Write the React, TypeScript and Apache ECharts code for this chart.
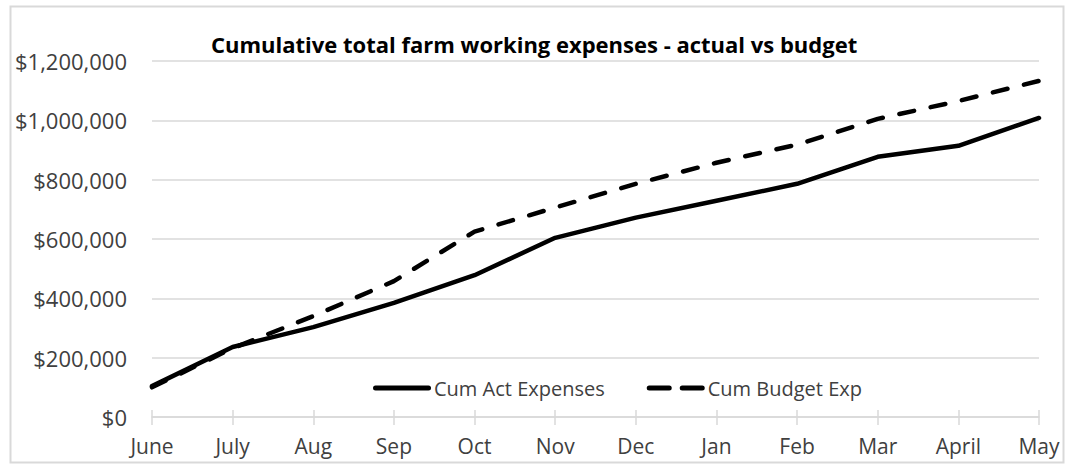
import React, { useEffect, useRef } from "react";
import * as echarts from "echarts";

const months = ["June", "July", "Aug", "Sep", "Oct", "Nov", "Dec", "Jan", "Feb", "Mar", "April", "May"];
const actualExpenses = [104000, 236000, 303000, 385000, 478000, 604000, 672000, 729000, 786000, 877000, 914000, 1008000];
const budgetExpenses = [100000, 232000, 340000, 458000, 625000, 706000, 786000, 857000, 918000, 1005000, 1065000, 1133000];
const seriesNames = ["Cum Act Expenses", "Cum Budget Exp"];
const titleText = "Cumulative total farm working expenses - actual vs budget";

const FONT = "'Open Sans', 'Noto Sans', sans-serif";
const TEXT_COLOR = "#404040";
const GRID_COLOR = "#d9d9d9";

export default function App() {
  const ref = useRef<HTMLDivElement>(null);
  useEffect(() => {
    if (!ref.current) return;
    const chart = echarts.init(ref.current, null, { renderer: "svg" });
    chart.setOption({
      animation: false,
      backgroundColor: "#ffffff",
      textStyle: { fontFamily: FONT },
      title: {
        text: titleText,
        left: 206,
        top: 28,
        textStyle: { fontFamily: FONT, fontSize: 22, fontWeight: "bold", color: "#000000" },
      },
      graphic: [
        {
          type: "rect",
          shape: { x: 10.5, y: 6.5, width: 1053, height: 456 },
          style: { fill: "none", stroke: GRID_COLOR, lineWidth: 2 },
          silent: true,
          z: -1,
        },
      ],
      legend: {
        left: 368,
        top: 373,
        itemWidth: 58,
        itemHeight: 5,
        itemGap: 42,
        textStyle: { fontFamily: FONT, fontSize: 20, color: TEXT_COLOR, padding: [0, 0, 0, -2] },
        data: [
          {
            name: seriesNames[0],
            icon: "path://M2.5,0 L55.5,0 A2.5,2.5 0 0 1 55.5,5 L2.5,5 A2.5,2.5 0 0 1 2.5,0 Z",
          },
          {
            name: seriesNames[1],
            icon:
              "path://M2.5,0 L22.5,0 A2.5,2.5 0 0 1 22.5,5 L2.5,5 A2.5,2.5 0 0 1 2.5,0 Z M35.5,0 L55.5,0 A2.5,2.5 0 0 1 55.5,5 L35.5,5 A2.5,2.5 0 0 1 35.5,0 Z",
          },
        ],
      },
      grid: { left: 152, right: 26, top: 61, bottom: 48, containLabel: false },
      xAxis: [
        {
          type: "category",
          data: months,
          boundaryGap: false,
          axisLine: { lineStyle: { color: GRID_COLOR, width: 1.5 } },
          axisTick: { show: true, length: 8, inside: false, lineStyle: { color: GRID_COLOR, width: 1.5 } },
          axisLabel: { fontFamily: FONT, fontSize: 21, color: TEXT_COLOR, margin: 18 },
          splitLine: { show: false },
        },
        {
          type: "category",
          data: months,
          boundaryGap: false,
          position: "bottom",
          axisLine: { show: false },
          axisTick: { show: true, length: 7, inside: true, lineStyle: { color: GRID_COLOR, width: 1.5 } },
          axisLabel: { show: false },
          splitLine: { show: false },
        },
      ],
      yAxis: {
        type: "value",
        min: 0,
        max: 1200000,
        interval: 200000,
        axisLine: { show: false },
        axisTick: { show: false },
        axisLabel: {
          fontFamily: FONT,
          fontSize: 22,
          color: TEXT_COLOR,
          margin: 25,
          formatter: (v: number) => "$" + v.toLocaleString("en-US"),
        },
        splitLine: { lineStyle: { color: GRID_COLOR, width: 1.5 } },
      },
      series: [
        {
          name: seriesNames[0],
          type: "line",
          data: actualExpenses,
          symbol: "none",
          lineStyle: { color: "#000000", width: 4.5, cap: "round", join: "round" },
          itemStyle: { color: "#000000" },
          z: 3,
        },
        {
          name: seriesNames[1],
          type: "line",
          data: budgetExpenses,
          symbol: "none",
          lineStyle: { color: "#000000", width: 4.5, type: [15, 17], cap: "round", join: "round" },
          itemStyle: { color: "#000000" },
          z: 2,
        },
      ],
    });
    return () => chart.dispose();
  }, []);
  return (
    <div
      ref={ref}
      style={{ position: "fixed", left: 0, top: 0, width: 1065, height: 465, background: "#fff" }}
    />
  );
}
